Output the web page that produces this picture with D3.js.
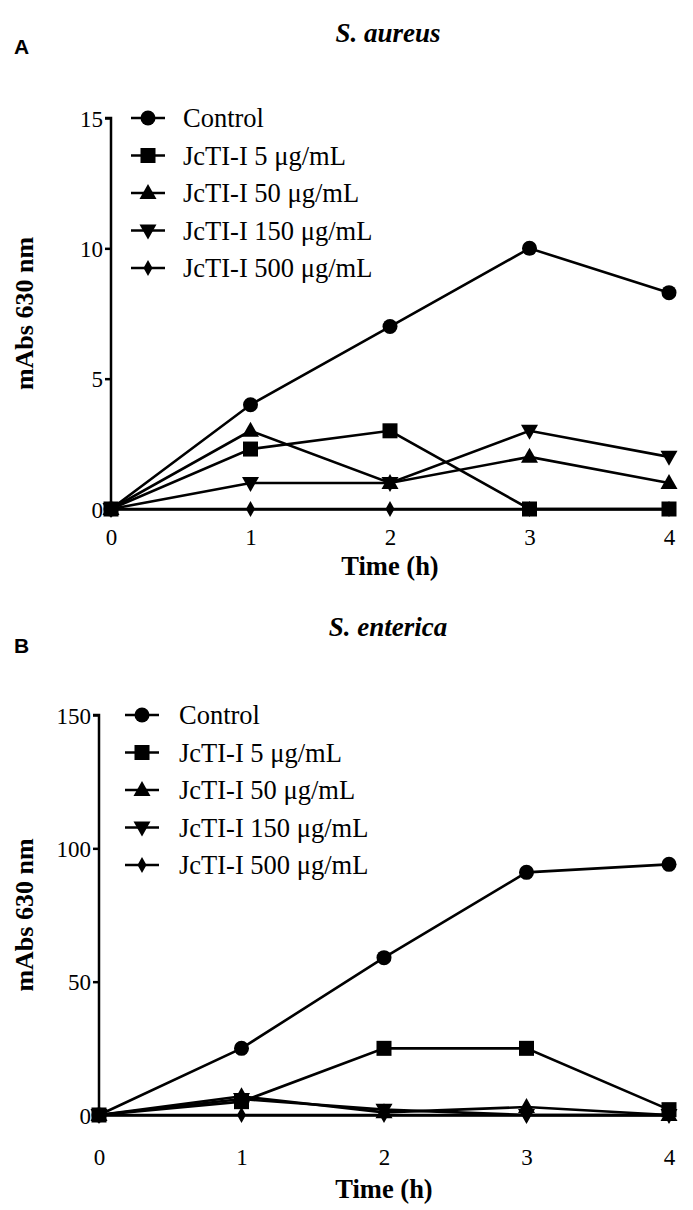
<!DOCTYPE html>
<html><head><meta charset="utf-8">
<script src="https://cdn.jsdelivr.net/npm/d3@7"></script>
<style>body{margin:0;background:#fff}</style>
</head><body>
<svg id="c" width="693" height="1210"></svg>
<script>
const times = [0, 1, 2, 3, 4];
const seriesNames = ["Control", "JcTI-I 5 \u03bcg/mL", "JcTI-I 50 \u03bcg/mL", "JcTI-I 150 \u03bcg/mL", "JcTI-I 500 \u03bcg/mL"];
const markerTypes = ["circle", "square", "triangle", "triangleDown", "diamond"];
// Panel A: S. aureus
const aControl = [0, 4, 7, 10, 8.3];
const a5 = [0, 2.3, 3, 0, 0];
const a50 = [0, 3, 1, 2, 1];
const a150 = [0, 1, 1, 3, 2];
const a500 = [0, 0, 0, 0, 0];
const aTicks = [0, 5, 10, 15];
// Panel B: S. enterica
const bControl = [0, 25, 59, 91, 94];
const b5 = [0, 5, 25, 25, 2];
const b50 = [0, 7, 1, 3, 0];
const b150 = [0, 6, 2, 0, 0];
const b500 = [0, 0, 0, 0, 0];
const bTicks = [0, 50, 100, 150];

const svg = d3.select("#c");
const serif = "Liberation Serif, Times New Roman, serif";

function marker(g, type, x, y, s) {
  if (type === "circle") g.append("circle").attr("cx", x).attr("cy", y).attr("r", 7.5*s);
  else if (type === "square") g.append("rect").attr("x", x-7.5*s).attr("y", y-7.5*s).attr("width", 15*s).attr("height", 15*s);
  else if (type === "triangle") g.append("path").attr("d", `M${x},${y-9*s}L${x+8.5*s},${y+6*s}L${x-8.5*s},${y+6*s}Z`);
  else if (type === "triangleDown") g.append("path").attr("d", `M${x},${y+9*s}L${x+8.5*s},${y-6*s}L${x-8.5*s},${y-6*s}Z`);
  else if (type === "diamond") g.append("path").attr("d", `M${x},${y-8*s}L${x+4.5*s},${y}L${x},${y+8*s}L${x-4.5*s},${y}Z`);
}

function panel(opts) {
  const {x0, x1, yTop, yBot, ymax, ticks, data, title, letter, letterY, titleY, legX, legTextX, legY, xtickY, xlabelY, ylabelX} = opts;
  const x = d3.scaleLinear().domain([0, 4]).range([x0, x1]);
  const y = d3.scaleLinear().domain([0, ymax]).range([yBot, yTop]);
  const g = svg.append("g");
  // y axis
  const ya = g.append("g").attr("transform", `translate(${x0},0)`)
    .call(d3.axisLeft(y).tickValues(ticks).tickSize(6).tickPadding(2).tickFormat(d3.format("d")));
  ya.select(".domain").attr("stroke", "#000").attr("stroke-width", 2.5).attr("d", `M-6,${yTop}H0V${yBot}`);
  ya.selectAll(".tick line").attr("stroke-width", 2.5);
  ya.selectAll("text").attr("font-family", serif).attr("font-size", 23).attr("fill", "#000").attr("dy", "0.35em");
  // x axis
  const xa = g.append("g").attr("transform", `translate(0,${yBot})`)
    .call(d3.axisBottom(x).tickValues(times).tickSize(0).tickPadding(0).tickFormat(d3.format("d")));
  xa.select(".domain").attr("stroke", "#000").attr("stroke-width", 2.5);
  xa.selectAll("text").attr("font-family", serif).attr("font-size", 23).attr("fill", "#000").attr("y", xtickY).attr("dy", 0);
  // lines
  const line = d3.line().x((d, i) => x(times[i])).y(d => y(d));
  data.forEach((vals, k) => {
    g.append("path").datum(vals).attr("d", line).attr("fill", "none").attr("stroke", "#000").attr("stroke-width", 2.6);
  });
  data.forEach((vals, k) => {
    const mg = g.append("g").attr("fill", "#000");
    vals.forEach((v, i) => marker(mg, markerTypes[k], x(times[i]), y(v), 1));
  });
  // legend
  seriesNames.forEach((name, k) => {
    const ly = legY + k * 37.5;
    g.append("line").attr("x1", legX - 17).attr("x2", legX + 17).attr("y1", ly).attr("y2", ly).attr("stroke", "#000").attr("stroke-width", 2.6);
    const mg = g.append("g").attr("fill", "#000");
    marker(mg, markerTypes[k], legX, ly, 1);
    g.append("text").attr("x", legTextX).attr("y", ly).attr("dy", "0.35em").attr("font-family", serif).attr("font-size", 26.5).text(name);
  });
  // labels
  g.append("text").attr("x", (x0 + x1) / 2).attr("y", xlabelY).attr("text-anchor", "middle")
    .attr("font-family", serif).attr("font-weight", "bold").attr("font-size", 26.5).text("Time (h)");
  g.append("text").attr("transform", `translate(${ylabelX},${(yTop + yBot) / 2}) rotate(-90)`).attr("text-anchor", "middle")
    .attr("font-family", serif).attr("font-weight", "bold").attr("font-size", 26).text("mAbs 630 nm");
  g.append("text").attr("x", 388).attr("y", titleY).attr("text-anchor", "middle")
    .attr("font-family", serif).attr("font-weight", "bold").attr("font-style", "italic").attr("font-size", 27).text(title);
  g.append("text").attr("x", 14).attr("y", letterY)
    .attr("font-family", "Liberation Sans, Arial, sans-serif").attr("font-weight", "bold").attr("font-size", 21).text(letter);
}

panel({x0: 111, x1: 669, yTop: 118, yBot: 509, ymax: 15, ticks: aTicks,
  data: [aControl, a5, a50, a150, a500], title: "S. aureus", letter: "A", letterY: 54, titleY: 42,
  legX: 148, legTextX: 183, legY: 118, xtickY: 36, xlabelY: 575, ylabelX: 33});
panel({x0: 99, x1: 669, yTop: 715, yBot: 1115, ymax: 150, ticks: bTicks,
  data: [bControl, b5, b50, b150, b500], title: "S. enterica", letter: "B", letterY: 653, titleY: 636,
  legX: 142, legTextX: 179, legY: 715, xtickY: 50, xlabelY: 1198, ylabelX: 33});
</script>
</body></html>
